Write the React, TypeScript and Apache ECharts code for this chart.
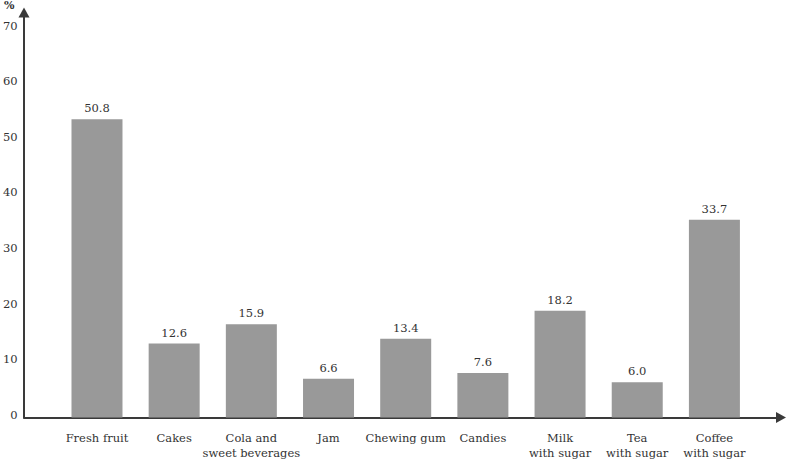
import React, { useEffect, useRef } from "react";
import * as echarts from "echarts";

const categories = [
  "Fresh fruit",
  "Cakes",
  "Cola and\nsweet beverages",
  "Jam",
  "Chewing gum",
  "Candies",
  "Milk\nwith sugar",
  "Tea\nwith sugar",
  "Coffee\nwith sugar",
];
const values = [50.8, 12.6, 15.9, 6.6, 13.4, 7.6, 18.2, 6.0, 33.7];
const tickLabels = ["0", "10", "20", "30", "40", "50", "60", "70"];
const unitLabel = "%";

const FONT = "DejaVu Serif";
const FS = 11.5;
const TEXT = "#333333";
const AXIS = "#3a3a3a";

export default function App() {
  const ref = useRef<HTMLDivElement>(null);
  useEffect(() => {
    if (!ref.current) return;
    const chart = echarts.init(ref.current, undefined, { renderer: "svg" });
    const hidden = {
      axisTick: { show: false },
      axisLabel: { show: false },
      splitLine: { show: false },
    };
    chart.setOption({
      animation: false,
      textStyle: { fontFamily: FONT },
      grid: [
        { left: 24, right: 6, top: 12.5, bottom: 42.5 },
        { left: 58.4, right: 34, top: 29, bottom: 42.5 },
        { left: 24, right: 6, top: 25.8, bottom: 45.3 },
      ],
      graphic: [
        {
          type: "text",
          left: 4,
          top: 0,
          style: {
            text: unitLabel,
            fill: TEXT,
            fontSize: 11,
            fontWeight: "bold",
            fontFamily: FONT,
          },
        },
      ],
      xAxis: [
        {
          type: "value",
          gridIndex: 0,
          min: 0,
          max: 1,
          ...hidden,
          axisLine: {
            show: true,
            symbol: ["none", "triangle"],
            symbolSize: [11, 10],
            lineStyle: { color: AXIS, width: 2 },
          },
        },
        {
          type: "category",
          gridIndex: 1,
          data: categories,
          axisLine: { show: false },
          axisTick: { show: false },
          axisLabel: {
            color: TEXT,
            fontSize: FS,
            fontFamily: FONT,
            lineHeight: 15,
            margin: 12.5,
            interval: 0,
          },
        },
        {
          type: "value",
          gridIndex: 2,
          show: false,
        },
      ],
      yAxis: [
        {
          type: "value",
          gridIndex: 0,
          min: 0,
          max: 1,
          ...hidden,
          axisLine: {
            show: true,
            symbol: ["none", "triangle"],
            symbolSize: [11, 10],
            lineStyle: { color: AXIS, width: 2 },
          },
        },
        {
          type: "value",
          gridIndex: 1,
          min: 0,
          max: 66.17,
          ...hidden,
          axisLine: { show: false },
        },
        {
          type: "value",
          gridIndex: 2,
          position: "left",
          min: 0,
          max: 70,
          interval: 10,
          axisLine: { show: false },
          axisTick: { show: false },
          splitLine: { show: false },
          axisLabel: {
            color: TEXT,
            fontSize: FS,
            fontFamily: FONT,
            margin: 10.5,
            formatter: (v: number) => tickLabels[Math.round(v / 10)] ?? "",
          },
        },
      ],
      series: [
        {
          type: "bar",
          xAxisIndex: 1,
          yAxisIndex: 1,
          data: values,
          barWidth: 51,
          itemStyle: { color: "#999999" },
          label: {
            show: true,
            position: "top",
            distance: 5,
            color: TEXT,
            fontSize: FS,
            fontFamily: FONT,
            formatter: (p: any) => Number(p.value).toFixed(1),
          },
        },
      ],
    });
    return () => chart.dispose();
  }, []);
  return <div ref={ref} style={{ width: 787, height: 460, position: "absolute", left: 0, top: 0 }} />;
}
